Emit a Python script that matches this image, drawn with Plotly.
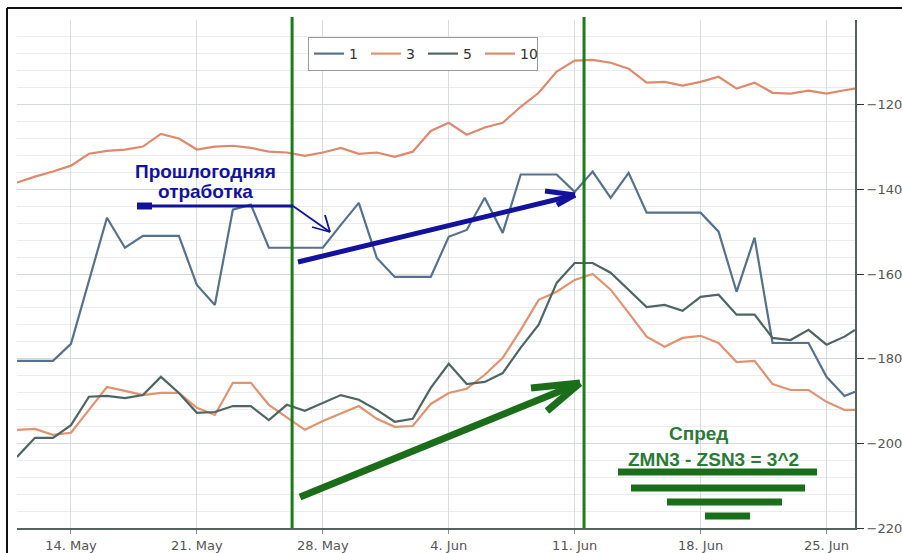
import pandas as pd
import plotly.graph_objects as go

# ---------------- data ----------------
dates = list(pd.date_range("2013-05-11", "2013-06-26", freq="D").strftime("%Y-%m-%d")) + ["2013-06-26 14:00"]

s1 = [-180.5, -180.5, -180.5, -176.5, -161.4, -146.7, -153.8, -151.0, -151.0, -151.0,
      -162.6, -167.3, -144.8, -143.6, -153.8, -153.8, -153.8, -153.8, -148.4, -143.2,
      -156.2, -160.7, -160.7, -160.7, -151.2, -149.6, -142.0, -150.3, -136.5, -136.5,
      -136.5, -140.6, -135.8, -142.0, -136.1, -145.5, -145.5, -145.5, -145.5, -150.0,
      -164.2, -151.4, -176.3, -176.3, -176.3, -184.3, -188.8, -187.8]

s3 = [-196.8, -196.6, -198.0, -197.5, -192.1, -186.7, -187.6, -188.6, -188.1, -188.1,
      -191.6, -193.3, -185.7, -185.7, -190.9, -193.8, -196.8, -194.7, -193.0, -191.2,
      -194.2, -196.1, -195.9, -190.7, -188.1, -187.1, -183.8, -179.8, -173.2, -166.1,
      -164.2, -161.4, -160.0, -163.7, -169.2, -174.8, -177.2, -175.1, -174.6, -176.3,
      -180.8, -180.5, -186.0, -187.4, -187.4, -190.2, -192.1, -192.1]

s5 = [-203.2, -198.7, -198.7, -195.7, -189.0, -188.8, -189.3, -188.6, -184.3, -188.1,
      -192.8, -192.6, -191.2, -191.2, -194.5, -190.9, -192.3, -190.4, -188.6, -189.7,
      -192.1, -194.9, -194.2, -186.9, -181.2, -186.0, -185.5, -183.4, -177.4, -172.0,
      -162.1, -157.4, -157.4, -159.7, -163.7, -167.8, -167.3, -168.7, -165.4, -164.9,
      -169.6, -169.6, -175.1, -175.6, -173.2, -176.7, -174.8, -173.2]

s10 = [-138.4, -137.0, -135.8, -134.4, -131.6, -130.9, -130.6, -129.9, -126.9, -128.0,
       -130.6, -129.9, -129.7, -130.2, -131.1, -131.3, -132.1, -131.3, -130.2, -131.6,
       -131.3, -132.3, -131.1, -126.2, -124.3, -127.1, -125.4, -124.3, -120.5, -117.2,
       -112.2, -109.6, -109.4, -110.1, -111.5, -114.8, -114.6, -115.5, -114.6, -113.4,
       -116.2, -114.8, -117.2, -117.4, -116.7, -117.4, -116.6, -116.2]

series_names = ["1", "3", "5", "10"]
series_values = [s1, s3, s5, s10]
series_colors = ["#56718c", "#e0936f", "#4e6662", "#dd8a6c"]

y_ticks = [-220, -200, -180, -160, -140, -120]
marker_dates = ["2013-05-26 07:00", "2013-06-11 12:30"]

# ---------------- layout geometry ----------------
W, H = 902, 553
PL, PT, PR, PB = 17, 20, 855, 528
PW, PH = PR - PL, PB - PT


def P(x, y):
    return (x - PL) / PW, 1 - (y - PT) / PH


fig = go.Figure()
for name, vals, col in zip(series_names, series_values, series_colors):
    fig.add_trace(go.Scatter(x=dates, y=vals, name=name, mode="lines",
                             line=dict(color=col, width=2.2)))

shapes = []


def seg(x0, y0, x1, y1, color, width):
    a, b = P(x0, y0)
    c, d = P(x1, y1)
    shapes.append(dict(type="line", xref="paper", yref="paper", x0=a, y0=b, x1=c, y1=d,
                       line=dict(color=color, width=width)))


# outer frame
seg(7, 8, 905, 8, "#111111", 2)
seg(7, 8, 7, 556, "#111111", 2)

# green vertical markers
for md in marker_dates:
    shapes.append(dict(type="line", xref="x", yref="paper", x0=md, x1=md, y0=0, y1=1.006,
                       line=dict(color="#1c7c1c", width=3)))

BLUE = "#12129c"
GREEN = "#1a6e1a"
# blue "last year" pointer
seg(137, 206, 293, 206, BLUE, 3)
seg(137, 206, 152, 206, BLUE, 7)
seg(293, 206, 330, 232, BLUE, 1.8)
seg(330, 232, 325, 215, BLUE, 1.8)
seg(330, 232, 312, 227, BLUE, 1.8)
# blue thick arrow
seg(298, 262, 575, 195, BLUE, 5)
seg(575, 195, 545, 191, BLUE, 5)
seg(575, 195, 557, 205, BLUE, 5)
# green thick arrow
seg(300, 497, 580, 383, GREEN, 7)
seg(580, 383, 531, 388, GREEN, 7)
seg(580, 383, 547, 411, GREEN, 7)
# green bars
seg(618, 472, 817, 472, GREEN, 7)
seg(631, 488, 805, 488, GREEN, 7)
seg(667, 502, 782, 502, GREEN, 7)
seg(705, 516, 750, 516, GREEN, 7)

annotations = []


def txt(x, y, s, color, size=19):
    a, b = P(x, y)
    annotations.append(dict(xref="paper", yref="paper", x=a, y=b, text=s, showarrow=False,
                            xanchor="center", yanchor="middle",
                            font=dict(family="Liberation Sans, Arial", size=size, color=color)))


txt(205, 171, "<b>Прошлогодняя</b>", BLUE)
txt(205, 191, "<b>отработка</b>", BLUE)
txt(698, 433, "<b>Спред</b>", "#2a7a38")
txt(713, 459, "<b>ZMN3 - ZSN3 = 3^2</b>", "#2a7a38")

lx, ly = P(308, 37)
fig.update_layout(
    width=W, height=H,
    margin=dict(l=PL, r=W - PR, t=PT, b=H - PB, autoexpand=False),
    paper_bgcolor="white", plot_bgcolor="white",
    font=dict(family="DejaVu Sans", color="#555555", size=12),
    shapes=shapes, annotations=annotations,
    showlegend=True,
    legend=dict(orientation="h", x=lx, y=ly, xanchor="left", yanchor="top",
                bgcolor="white", bordercolor="#9a9a9a", borderwidth=1,
                font=dict(family="DejaVu Sans", size=14, color="#333333"),
                entrywidth=12, entrywidthmode="pixels", itemwidth=30),
    xaxis=dict(type="date", range=[dates[0], dates[-1]], automargin=False,
               tick0="2013-05-14", dtick=7 * 86400000, tickformat="%-d. %b",
               showgrid=True, gridcolor="#d9dde3", gridwidth=1,
               showline=True, linecolor="#55625f", linewidth=2,
               ticks="outside", ticklen=4, tickcolor="#8a9090",
               tickfont=dict(family="DejaVu Sans", size=13, color="#555555"),
               zeroline=False),
    yaxis=dict(side="right", range=[-220, -100], tickmode="array", tickvals=y_ticks,
               automargin=False,
               showgrid=True, gridcolor="#d6d9dc", gridwidth=1,
               minor=dict(tick0=-220, dtick=4, showgrid=True, gridcolor="#ececec", gridwidth=1),
               showline=True, linecolor="#55625f", linewidth=2,
               ticks="outside", ticklen=7, tickcolor="#333333",
               tickfont=dict(family="DejaVu Sans", size=13, color="#555555"),
               zeroline=False),
)

fig.write_html("out.html", config={"displayModeBar": False},
               post_script="document.body.style.margin='0';document.body.style.overflow='hidden';")
